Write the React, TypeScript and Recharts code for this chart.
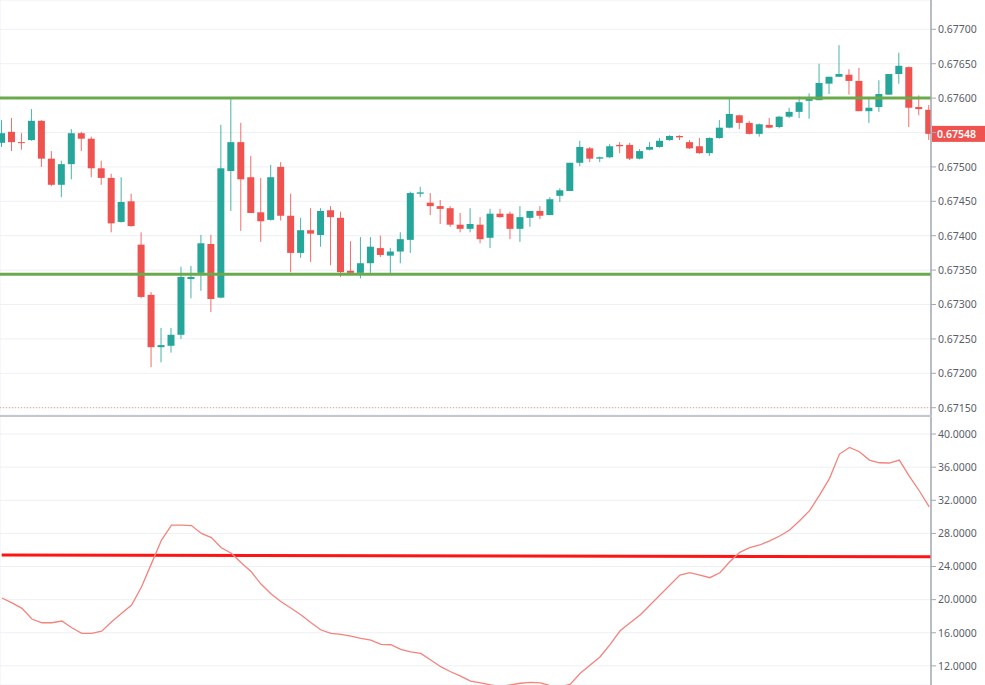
import React from 'react';
import { ComposedChart, Bar, Line, XAxis, YAxis, CartesianGrid, ReferenceLine } from 'recharts';

const opens = [
  0.67535, 0.67551, 0.67536, 0.67539, 0.67567, 0.67512, 0.67474, 0.67504, 0.67549, 0.67541,
  0.67498, 0.67484, 0.67420, 0.67450, 0.67387, 0.67314, 0.67238, 0.67240, 0.67256, 0.67337,
  0.67346, 0.67388, 0.67310, 0.67494, 0.67536, 0.67485, 0.67434, 0.67423, 0.67500, 0.67429,
  0.67375, 0.67408, 0.67401, 0.67437, 0.67426, 0.67349, 0.67346, 0.67360, 0.67382, 0.67371,
  0.67377, 0.67394, 0.67461, 0.67448, 0.67443, 0.67440, 0.67416, 0.67410, 0.67416, 0.67397,
  0.67432, 0.67432, 0.67410, 0.67426, 0.67436, 0.67430, 0.67458, 0.67465, 0.67506, 0.67527,
  0.67512, 0.67514, 0.67532, 0.67532, 0.67512, 0.67525, 0.67529, 0.67539, 0.67545, 0.67536,
  0.67530, 0.67520, 0.67542, 0.67557, 0.67575, 0.67564, 0.67548, 0.67561, 0.67558, 0.67573,
  0.67580, 0.67596, 0.67597, 0.67621, 0.67631, 0.67634, 0.67625, 0.67581, 0.67587, 0.67605,
  0.67635, 0.67645, 0.67587, 0.67583,
];
const highs = [
  0.67568, 0.67571, 0.67549, 0.67584, 0.67568, 0.67523, 0.67509, 0.67555, 0.67551, 0.67544,
  0.67509, 0.67490, 0.67485, 0.67461, 0.67405, 0.67318, 0.67266, 0.67266, 0.67355, 0.67356,
  0.67401, 0.67401, 0.67561, 0.67600, 0.67564, 0.67516, 0.67484, 0.67503, 0.67507, 0.67461,
  0.67426, 0.67440, 0.67440, 0.67443, 0.67435, 0.67392, 0.67398, 0.67398, 0.67400, 0.67382,
  0.67405, 0.67464, 0.67471, 0.67462, 0.67452, 0.67443, 0.67433, 0.67440, 0.67427, 0.67439,
  0.67439, 0.67435, 0.67443, 0.67436, 0.67443, 0.67456, 0.67469, 0.67506, 0.67538, 0.67529,
  0.67515, 0.67533, 0.67536, 0.67535, 0.67526, 0.67536, 0.67542, 0.67546, 0.67546, 0.67539,
  0.67542, 0.67543, 0.67568, 0.67600, 0.67576, 0.67567, 0.67563, 0.67571, 0.67574, 0.67586,
  0.67602, 0.67607, 0.67650, 0.67631, 0.67677, 0.67642, 0.67644, 0.67600, 0.67626, 0.67635,
  0.67666, 0.67646, 0.67604, 0.67590,
];
const lows = [
  0.67529, 0.67523, 0.67525, 0.67538, 0.67500, 0.67472, 0.67456, 0.67482, 0.67523, 0.67485,
  0.67474, 0.67405, 0.67419, 0.67413, 0.67309, 0.67209, 0.67216, 0.67230, 0.67250, 0.67309,
  0.67320, 0.67289, 0.67309, 0.67436, 0.67407, 0.67433, 0.67391, 0.67422, 0.67422, 0.67347,
  0.67368, 0.67362, 0.67384, 0.67357, 0.67340, 0.67345, 0.67338, 0.67346, 0.67369, 0.67343,
  0.67360, 0.67375, 0.67456, 0.67430, 0.67417, 0.67413, 0.67405, 0.67405, 0.67389, 0.67382,
  0.67426, 0.67395, 0.67391, 0.67413, 0.67424, 0.67430, 0.67449, 0.67465, 0.67501, 0.67507,
  0.67507, 0.67513, 0.67520, 0.67510, 0.67511, 0.67524, 0.67528, 0.67538, 0.67539, 0.67526,
  0.67519, 0.67516, 0.67541, 0.67556, 0.67555, 0.67547, 0.67544, 0.67556, 0.67556, 0.67571,
  0.67571, 0.67570, 0.67597, 0.67606, 0.67631, 0.67605, 0.67581, 0.67564, 0.67580, 0.67605,
  0.67621, 0.67558, 0.67575, 0.67539,
];
const closes = [
  0.67549, 0.67536, 0.67535, 0.67567, 0.67512, 0.67474, 0.67504, 0.67549, 0.67541, 0.67498,
  0.67484, 0.67418, 0.67449, 0.67414, 0.67311, 0.67238, 0.67241, 0.67256, 0.67340, 0.67340,
  0.67389, 0.67308, 0.67498, 0.67536, 0.67482, 0.67433, 0.67421, 0.67485, 0.67429, 0.67375,
  0.67408, 0.67403, 0.67436, 0.67427, 0.67347, 0.67346, 0.67360, 0.67384, 0.67372, 0.67377,
  0.67395, 0.67462, 0.67463, 0.67443, 0.67439, 0.67416, 0.67410, 0.67417, 0.67395, 0.67432,
  0.67427, 0.67410, 0.67427, 0.67436, 0.67429, 0.67453, 0.67466, 0.67506, 0.67529, 0.67512,
  0.67514, 0.67530, 0.67530, 0.67512, 0.67523, 0.67529, 0.67538, 0.67545, 0.67543, 0.67527,
  0.67520, 0.67542, 0.67557, 0.67577, 0.67564, 0.67548, 0.67562, 0.67557, 0.67573, 0.67580,
  0.67594, 0.67600, 0.67622, 0.67631, 0.67635, 0.67625, 0.67581, 0.67586, 0.67606, 0.67635,
  0.67647, 0.67586, 0.67584, 0.67548,
];
const adxValues = [
  20.2, 19.6, 18.95, 17.66, 17.21, 17.21, 17.42, 16.6, 15.93, 15.93,
  16.2, 17.33, 18.35, 19.35, 21.56, 24.38, 27.2, 29.0, 29.0, 28.95,
  28.0, 27.5, 26.27, 25.6, 24.46, 23.37, 21.85, 20.68, 19.75, 18.95,
  18.14, 17.21, 16.33, 15.93, 15.81, 15.6, 15.33, 15.12, 14.6, 14.55,
  14.0, 13.7, 13.5, 12.7, 11.9, 11.29, 10.77, 10.17, 9.96, 9.7,
  9.5, 9.7, 9.9, 10.0, 9.95, 9.6, 9.4, 9.8, 11.1, 12.1,
  13.1, 14.6, 16.24, 17.2, 18.14, 19.35, 20.56, 21.76, 22.97, 23.25,
  22.97, 22.65, 23.25, 24.58, 25.71, 26.27, 26.6, 27.1, 27.68, 28.4,
  29.53, 30.74, 32.63, 34.65, 37.58, 38.39, 37.86, 36.86, 36.53, 36.5,
  36.86, 34.93, 33.15, 31.2,
];

const priceTicks = [0.6715, 0.672, 0.6725, 0.673, 0.6735, 0.674, 0.6745, 0.675, 0.6755, 0.676, 0.6765, 0.677];
const adxTicks = [12, 16, 20, 24, 28, 32, 36, 40];
const gridIndices = [5, 14, 23, 32, 41, 50, 59, 68, 77, 86];
const supportLevel = 0.67344;
const resistanceLevel = 0.676;
const dottedLevel = 0.6715;
const adxThresholdStart = 25.39;
const adxThresholdEnd = 25.18;

const candles = opens.map((o, k) => ({
  i: k + 1,
  open: o,
  high: highs[k],
  low: lows[k],
  close: closes[k],
}));
const adxData = adxValues.map((v, k) => ({ i: k + 1, adx: v }));
const lastClose = closes[closes.length - 1];

const UP = '#26a69a';
const DOWN = '#ef5350';
const GRID = '#eef0f5';
const AXIS = '#a5a8b0';
const LABEL = '#5a5e68';
const FONT = '"Noto Sans", "Open Sans", sans-serif';
const X_DOMAIN: [number, number] = [0.8, 94.18];

const Candle = (props: any) => {
  const { x, y, width, height, payload } = props;
  if (!payload) return null;
  const { open, close, high, low } = payload;
  const top = Math.min(y, y + height);
  const h = Math.abs(height);
  const range = high - low || 1e-9;
  const yOf = (p: number) => top + ((high - p) / range) * h;
  const cx = x + width / 2;
  const color = close >= open ? UP : DOWN;
  const bTop = yOf(Math.max(open, close));
  const bBot = yOf(Math.min(open, close));
  const bh = Math.max(1, bBot - bTop);
  return (
    <g>
      <line x1={cx} x2={cx} y1={top} y2={top + h} stroke={color} strokeWidth={1} strokeOpacity={0.85} />
      <rect x={cx - 3.5} y={bTop} width={7} height={bh} fill={color} />
    </g>
  );
};

const PriceTick = (props: any) => {
  const { x, y, payload } = props;
  if (Math.abs(payload.value - 0.6755) < 1e-7) return <g />;
  return (
    <text x={x} y={y} dy={3.8} fill={LABEL} fontSize={10.5} fontFamily={FONT} textAnchor="start">
      {Number(payload.value).toFixed(5)}
    </text>
  );
};

const AdxTick = (props: any) => {
  const { x, y, payload } = props;
  return (
    <text x={x} y={y} dy={3.8} fill={LABEL} fontSize={10.5} fontFamily={FONT} textAnchor="start">
      {Number(payload.value).toFixed(4)}
    </text>
  );
};

const PriceBox = (props: any) => {
  const vb = props.viewBox || {};
  const x = (vb.x || 0) + (vb.width || 0);
  const y = vb.y || 0;
  return (
    <g>
      <rect x={x + 1} y={y - 8} width={54} height={16} fill={DOWN} />
      <text x={x + 6} y={y + 3.8} fill="#ffffff" fontSize={10.5} fontFamily={FONT} fontWeight={600}>
        {lastClose.toFixed(5)}
      </text>
    </g>
  );
};

export default function App() {
  return (
    <div style={{ position: 'absolute', left: 0, top: 0, width: 985, height: 685, background: '#ffffff', overflow: 'hidden' }}>
      <div style={{ position: 'absolute', left: 0, top: 0 }}>
        <ComposedChart width={985} height={415} data={candles} margin={{ top: 0, right: 0, bottom: 0, left: 0 }}>
          <CartesianGrid stroke={GRID} strokeWidth={1} />
          <XAxis dataKey="i" type="number" domain={X_DOMAIN} ticks={gridIndices} allowDataOverflow tick={false} axisLine={false} tickLine={false} height={0} />
          <YAxis
            orientation="right"
            width={54}
            domain={[0.671394, 0.677426]}
            ticks={priceTicks}
            allowDataOverflow
            tick={PriceTick}
            tickSize={5}
            axisLine={{ stroke: AXIS, strokeWidth: 1.5 }}
            tickLine={{ stroke: AXIS }}
            interval={0}
          />
          <ReferenceLine y={dottedLevel} stroke="#f09a9a" strokeDasharray="1 2" strokeWidth={1} />
          <ReferenceLine y={resistanceLevel} stroke="#6aaa4c" strokeWidth={3} />
          <ReferenceLine y={supportLevel} stroke="#6aaa4c" strokeWidth={3} />
          <Bar dataKey={(d: any) => [d.low, d.high]} shape={Candle} barSize={7} isAnimationActive={false} />
          <ReferenceLine y={lastClose} stroke="none" label={PriceBox} />
        </ComposedChart>
      </div>
      <div style={{ position: 'absolute', left: 0, top: 415 }}>
        <ComposedChart width={985} height={270} data={adxData} margin={{ top: 0, right: 0, bottom: 0, left: 0 }}>
          <CartesianGrid stroke={GRID} strokeWidth={1} />
          <XAxis dataKey="i" type="number" domain={X_DOMAIN} ticks={gridIndices} allowDataOverflow tick={false} axisLine={false} tickLine={false} height={0} />
          <YAxis
            orientation="right"
            width={54}
            domain={[9.69, 42.3]}
            ticks={adxTicks}
            allowDataOverflow
            tick={AdxTick}
            tickSize={5}
            axisLine={{ stroke: AXIS, strokeWidth: 1.5 }}
            tickLine={{ stroke: AXIS }}
            interval={0}
          />
          <ReferenceLine
            segment={[{ x: 0.97, y: adxThresholdStart }, { x: 94.18, y: adxThresholdEnd }]}
            stroke="#ff1414"
            strokeWidth={3}
          />
          <Line dataKey="adx" type="linear" stroke="#f4837d" strokeWidth={1.3} dot={false} isAnimationActive={false} />
        </ComposedChart>
      </div>
      <div style={{ position: 'absolute', left: 0, top: 415, width: 932, height: 2, background: '#c4c7ce' }} />
    </div>
  );
}
